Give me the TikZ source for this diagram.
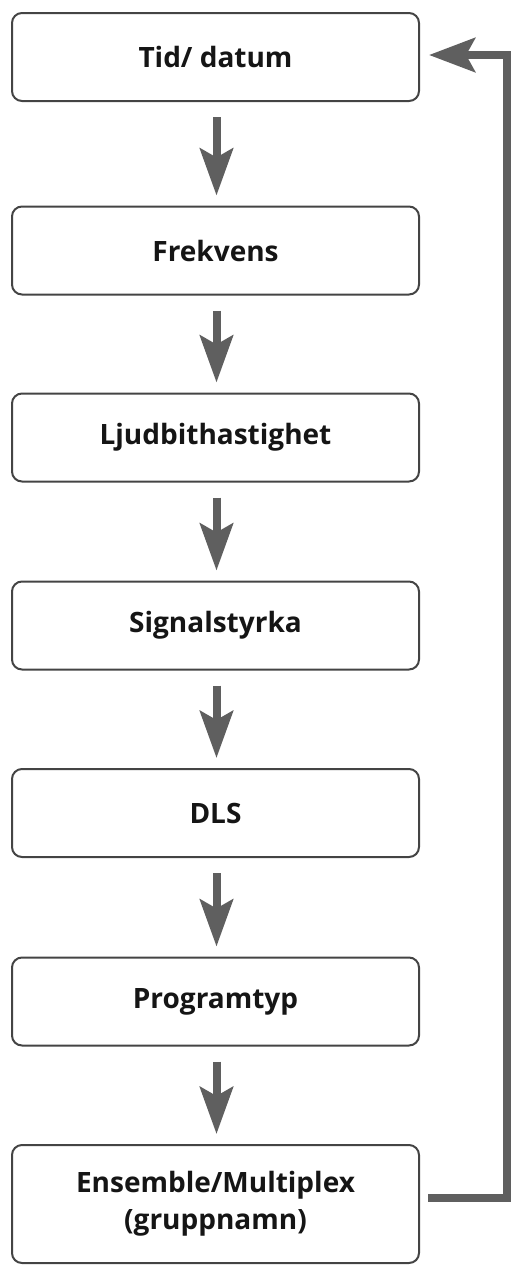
\documentclass[tikz,border=0pt]{standalone}
\usepackage{fontspec}
\setmainfont{Open Sans}
\usetikzlibrary{arrows.meta}
\definecolor{boxline}{HTML}{444444}
\definecolor{arrgray}{HTML}{5F5F5F}
\definecolor{txt}{HTML}{151515}
\tikzset{
  box/.style={draw=boxline, line width=2pt, rounded corners=10pt, fill=white,
    minimum width=407pt, minimum height=88pt, inner sep=0pt, align=center,
    text=txt, font=\fontsize{28}{37}\selectfont\bfseries},
  arr/.style={draw=arrgray, line width=8pt,
    -{Stealth[length=47pt,width=33pt,inset=9pt]}},
}
\begin{document}
\begin{tikzpicture}[x=1pt,y=-1pt]
\useasboundingbox (0,0) rectangle (518,1267);
\node[box] (b1) at (215.5,57) {Tid/ datum};
\node[box] (b2) at (215.5,250.5) {Frekvens};
\node[box] (b3) at (215.5,437.5) {Ljudbithastighet};
\node[box] (b4) at (215.5,625.5) {Signalstyrka};
\node[box] (b5) at (215.5,813) {DLS};
\node[box] (b6) at (215.5,1001.5) {Programtyp};
\node[box, minimum height=118pt] (b7) at (215.5,1204) {Ensemble/Multiplex\\(gruppnamn)};
\foreach \a/\b in {b1/b2,b2/b3,b3/b4,b4/b5,b5/b6,b6/b7}{
  \draw[arr] ([xshift=1pt,yshift=-15pt]\a.south) -- ([xshift=1pt,yshift=10pt]\b.north);
}
\draw[arr, -{Stealth[length=46pt,width=34pt,inset=9pt]}]
  ([xshift=8pt,yshift=6pt]b7.east) -| ([xshift=86.5pt,yshift=2pt]b1.east)
  -- ([xshift=9pt,yshift=2pt]b1.east);
\end{tikzpicture}
\end{document}
